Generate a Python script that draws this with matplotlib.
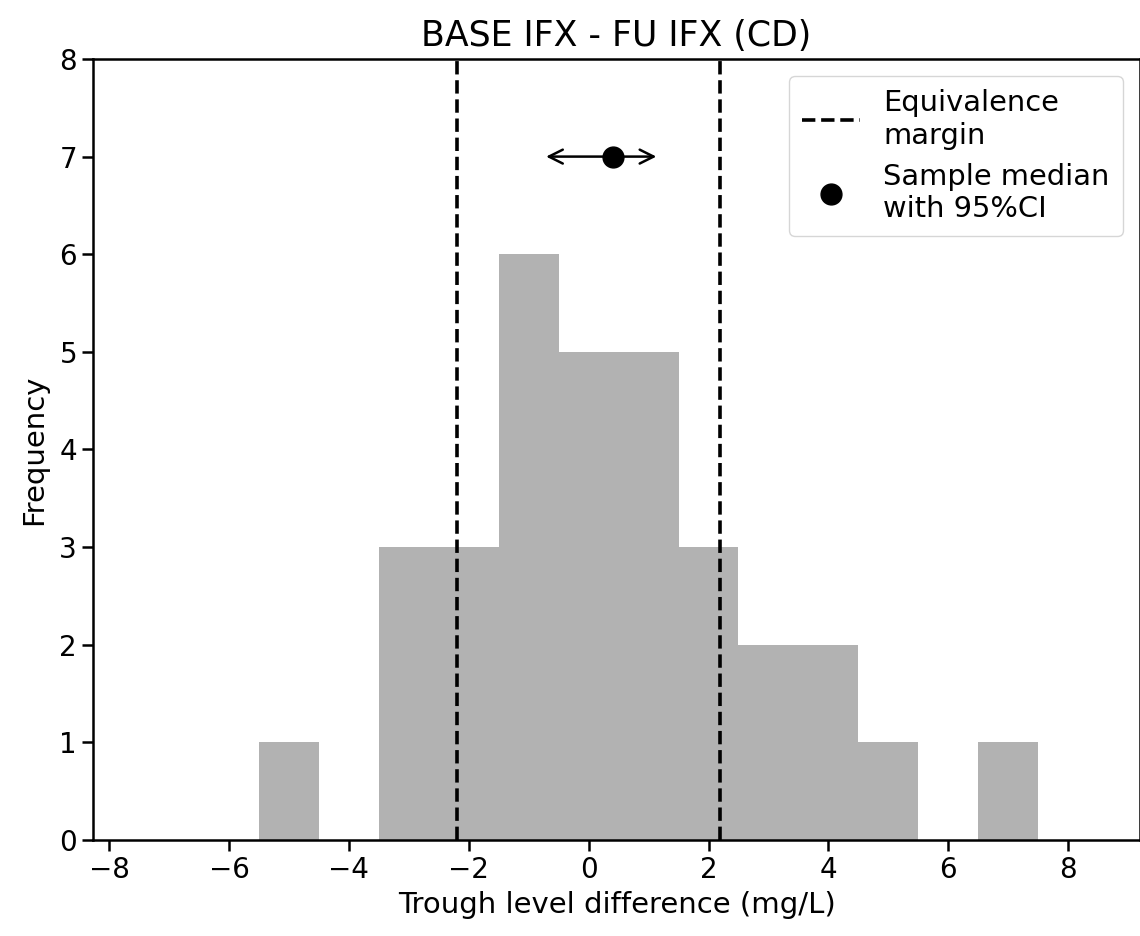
import numpy as np
import matplotlib
matplotlib.use("Agg")
import matplotlib.pyplot as plt

# Histogram bins (width 1, centred on integers) and counts
bin_edges = np.arange(-5.5, 8.5, 1.0)
counts = [1, 0, 3, 3, 6, 5, 5, 3, 2, 2, 1, 0, 1]

# Equivalence margin and sample median with 95% CI
margin = 2.2
median = 0.41
ci_low, ci_high = -0.71, 1.13

plt.rcParams["font.family"] = ["DejaVu Sans"]
plt.rcParams["font.size"] = 20

fig = plt.figure(figsize=(11.4, 9.36), dpi=100)
ax = fig.add_axes([0.0816, 0.1026, 0.9184, 0.8344])

ax.hist(bin_edges[:-1], bins=bin_edges, weights=counts, color="#b2b2b2")

# Equivalence margin lines
ax.axvline(-margin, color="black", linestyle="--", linewidth=2.6,
           label="Equivalence\nmargin")
ax.axvline(margin, color="black", linestyle="--", linewidth=2.6)

# CI arrow and median point
ax.annotate("", xy=(ci_low, 7), xytext=(ci_high, 7),
            arrowprops=dict(arrowstyle="<->", color="black", lw=1.8,
                            mutation_scale=25, shrinkA=0, shrinkB=0))
ax.plot([median], [7], "o", color="black", markersize=15,
        label="Sample median\nwith 95%CI")

ax.set_xlim(-8.27, 9.2)
ax.set_ylim(0, 8)
ax.set_xticks(range(-8, 9, 2))
ax.set_yticks(range(0, 9))

ax.set_title("BASE IFX - FU IFX (CD)", fontsize=25, pad=9)
ax.set_xlabel("Trough level difference (mg/L)", fontsize=21, labelpad=5)
ax.set_ylabel("Frequency", fontsize=21, labelpad=8)

for s in ax.spines.values():
    s.set_linewidth(1.8)
ax.tick_params(width=1.8, length=8, labelsize=20)

ax.legend(loc="upper right", fontsize=20.8, handlelength=2.0,
          borderpad=0.45, labelspacing=0.45, borderaxespad=0.6)

fig.savefig("out.png", dpi=100)
